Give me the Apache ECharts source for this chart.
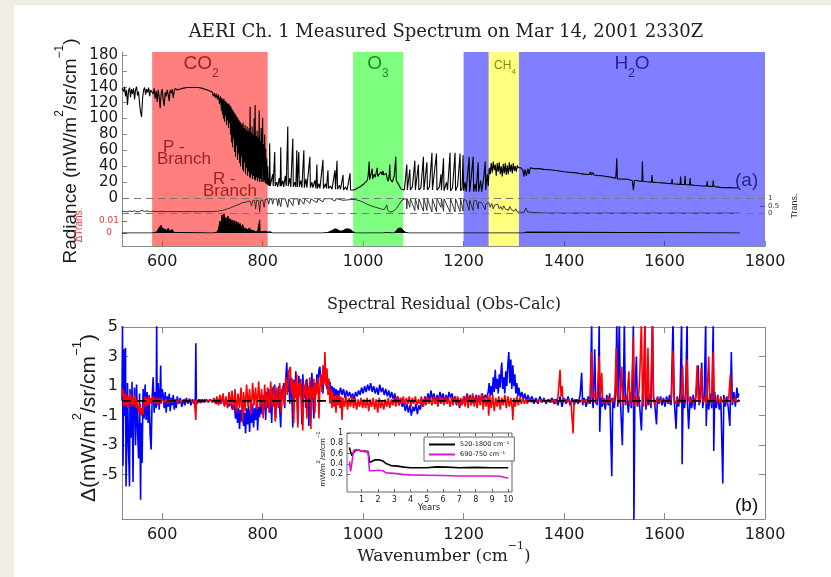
<!DOCTYPE html>
<html><head><meta charset="utf-8">
<script src="https://cdn.jsdelivr.net/npm/echarts@6/dist/echarts.min.js"></script>
<style>
html,body{margin:0;padding:0;background:#efede6;}
#panel{position:absolute;left:14px;top:5px;width:817px;height:572px;background:#fff;}
#main{position:absolute;left:0;top:0;width:831px;height:577px;}
</style></head><body>
<div id="panel"></div><div id="main"></div>
<script>
// ---------- DATA ----------
const xTicks = [600, 800, 1000, 1200, 1400, 1600, 1800];
const transTicks = [0, 0.5, 1];
const dTransTicks = [0, 0.01];
const resTicks = [-5, -3, -1, 1, 3, 5];
const insetXTicks = [1, 2, 3, 4, 5, 6, 7, 8, 9, 10];
const insetYTicks = [0.2, 0.4, 0.6, 0.8, 1];

// absorber bands (wavenumber ranges)
const bandNames = ['CO2', 'O3', 'H2O', 'H2O', 'CH4'];
const bandRanges = [[580, 810], [980, 1080], [1200, 1250], [1310, 1800], [1250, 1310]];

// measured radiance [wavenumber, mW/m2/sr/cm-1]
const radiance = [
[520,138],[523,134],[525,140],[527,128],[529,136],[531,117],[533,135],[535,139],[537,127],[539,137],[541,131],[543,138],[545,124],[547,136],[549,140],[551,129],[553,134],[555,118],[557,108],[559,102],[561,126],[563,136],[565,139],[567,130],[569,137],[571,133],[573,139],[575,128],[577,136],[580,138],
[582,131],[584,138],[586,125],[588,135],[590,121],[592,136],[594,128],[596,113],[598,132],[600,137],[602,124],[604,116],[606,133],[608,128],[610,136],[612,130],[614,122],[616,136],[618,132],[620,137],[622,126],[624,135],[626,138],[630,136],[635,137],[640,138],[650,139],[660,139],[668,139],[670,141],[672,139],[680,138],[690,136],
[700,133],[702,128],[704,132],[706,126],[708,131],[710,124],[712,130],[714,118],[716,128],[718,110],[719,126],[720,105],[721,124],[722,100],[723,125],[724,96],[725,122],[726,104],[727,121],[728,92],[729,120],[730,98],[731,118],[732,88],[733,119],[734,94],[735,116],[736,80],[737,115],[738,70],[739,112],[740,64],[741,110],[742,75],[743,108],[744,58],[745,106],[746,52],[747,104],[748,66],[749,102],[750,48],[751,100],[752,56],[753,98],[754,44],[755,96],[756,40],[757,94],[758,52],[759,92],[760,36],[761,95],[762,33],[763,88],[764,45],[765,92],[766,30],[767,86],[768,38],[769,90],[770,28],[771,84],[772,33],[773,88],[774,26],[775,115],[776,25],[777,82],[778,30],[779,90],[780,24],[781,80],[782,28],[783,100],[784,23],[785,117],[786,22],[787,78],[788,26],[789,85],[790,21],[791,76],[792,25],[793,110],[794,20],[795,72],[796,24],[797,88],[798,20],[799,70],[800,101],[801,20],[802,68],[803,22],[804,80],[805,19],[806,62],[807,18],[808,50],[809,17],[810,40],[811,16],[812,25],[813,15],
[814,69],[815,15],[818,16],[820,30],[821,15],[824,58],[825,15],[828,20],[830,14],[833,25],[835,15],[836,64],[837,15],[840,22],[842,14],[845,28],[847,15],[850,90],[851,15],[854,25],[856,14],[860,75],[861,14],[864,20],[866,14],[868,60],[869,14],[872,58],[873,14],[876,22],[878,13],[882,60],[883,13],[886,24],[888,13],[894,52],[895,13],[898,20],[900,13],[904,22],[906,12],[908,42],[909,12],[912,18],[914,12],[920,48],[921,12],[925,18],[927,12],[930,35],[931,12],[935,15],[938,11],[944,35],[945,11],[948,47],[949,11],[953,16],[955,11],[960,29],[961,10],[965,14],[968,10],[974,31],[975,10],[978,12],[981,10],
[985,11],[990,13],[994,14],[998,16],[1002,18],[1005,20],[1008,22],[1010,28],[1012,46],[1013,23],[1016,25],[1018,37],[1019,24],[1022,30],[1024,26],[1026,32],[1028,38],[1029,27],[1032,30],[1034,28],[1036,33],[1038,29],[1040,34],[1041,29],[1044,27],[1046,31],[1048,24],[1050,21],[1052,30],[1053,42],[1054,24],[1056,26],[1058,20],[1060,22],[1062,28],[1065,52],[1066,22],[1068,20],[1070,18],[1073,14],[1076,11],[1078,10],
[1082,10],[1087,42],[1088,10],[1091,12],[1093,36],[1094,10],[1098,14],[1103,47],[1104,10],[1107,12],[1110,42],[1111,10],[1115,13],[1120,52],[1121,10],[1124,12],[1127,45],[1128,10],[1132,14],[1137,57],[1138,10],[1141,12],[1146,56],[1147,10],[1152,14],[1155,30],[1156,10],[1160,50],[1161,9],[1166,20],[1168,10],[1173,57],[1174,9],[1178,13],[1183,57],[1184,9],[1188,15],[1193,56],[1194,9],[1197,12],
[1199,54],[1200,9],[1203,20],[1205,8],[1208,30],[1211,52],[1212,8],[1215,25],[1219,52],[1220,8],[1223,18],[1225,8],[1229,45],[1230,8],[1234,22],[1236,8],[1240,25],[1243,46],[1244,10],[1247,30],[1249,15],
[1251,38],[1253,30],[1255,44],[1257,32],[1259,46],[1261,35],[1263,42],[1265,28],[1267,44],[1269,33],[1271,45],[1273,30],[1275,40],[1277,27],[1279,43],[1281,31],[1283,44],[1285,29],[1287,41],[1289,30],[1291,45],[1293,33],[1295,42],[1297,31],[1299,44],[1301,34],[1303,40],[1305,33],[1307,41],[1309,38],[1311,40],
[1314,38],[1318,35],[1320,27],[1322,36],[1325,28],[1328,37],[1330,30],[1333,38],[1340,37],[1350,37],[1360,36],[1370,35.5],[1380,35],[1390,34],[1400,33],[1410,32.5],[1420,32],[1430,31],[1440,30],[1450,29.5],[1453,33],[1454,29],[1458,32],[1459,29],[1465,28.5],[1475,28],[1485,27],[1495,26],[1503,25],[1505,50],[1506,24],[1507,22],[1508,25],[1515,24],[1520,23.5],[1525,24],[1530,23],[1536,22],[1538,10],[1540,22],[1545,22],[1550,21],[1555,21],[1556,46],[1557,21],[1565,20.5],[1574,20],[1575,29],[1576,20],[1585,19.5],[1595,19],[1605,18.5],[1614,18],[1615,24],[1616,18],[1625,17.5],[1631,17],[1632,27],[1633,17],[1640,17],[1641,28],[1642,17],[1650,16.5],[1651,25],[1652,16.5],[1660,16],[1670,15.5],[1684,15],[1685,21],[1686,15],[1696,14.5],[1697,22],[1698,14.5],[1705,14],[1715,13],[1717,11],[1719,13],[1730,13],[1740,12.5],[1748,13]
];

// atmospheric transmission [wavenumber, 0..1]
const transmission = [
[520,0.12],[525,0.15],[530,0.1],[535,0.16],[540,0.12],[545,0.18],[550,0.1],[555,0.14],[560,0.2],[565,0.13],[570,0.17],[575,0.11],[580,0.15],[590,0.12],[600,0.14],[610,0.11],[620,0.13],[630,0.12],[640,0.12],[660,0.12],[680,0.12],[700,0.13],[710,0.15],[715,0.18],[720,0.2],[725,0.25],[730,0.3],[735,0.35],[738,0.3],[740,0.42],[745,0.5],[748,0.45],[750,0.55],[755,0.62],[758,0.55],[760,0.7],[765,0.72],[768,0.6],[770,0.78],[775,0.8],[778,0.5],[780,0.82],[784,0.85],[786,0.3],[788,0.85],[792,0.82],[794,0.1],[796,0.85],[800,0.88],[803,0.4],[805,0.9],[810,0.9],[812,0.6],[814,0.92],
[818,0.93],[820,0.6],[822,0.93],[828,0.94],[830,0.5],[832,0.94],[836,0.45],[838,0.94],[845,0.94],[850,0.4],[852,0.94],[860,0.5],[862,0.94],[870,0.95],[872,0.55],[874,0.95],[882,0.6],[884,0.95],[894,0.65],[896,0.95],[908,0.7],[910,0.95],[920,0.75],[922,0.95],[935,0.96],[944,0.8],[946,0.96],[960,0.85],[962,0.96],[975,0.9],[978,0.96],
[985,0.9],[995,0.8],[1005,0.65],[1015,0.5],[1025,0.4],[1035,0.3],[1042,0.25],[1045,0.22],[1047,0.55],[1049,0.2],[1053,0.1],[1058,0.12],[1062,0.2],[1067,0.35],[1072,0.6],[1077,0.85],[1082,0.93],
[1086,0.95],[1087,0.3],[1088,0.95],[1093,0.4],[1094,0.95],[1103,0.2],[1104,0.95],[1110,0.25],[1111,0.95],[1120,0.15],[1121,0.95],[1127,0.2],[1128,0.95],[1137,0.1],[1138,0.95],[1146,0.12],[1147,0.95],[1155,0.4],[1156,0.95],[1160,0.15],[1161,0.95],[1173,0.1],[1174,0.95],[1183,0.1],[1184,0.95],[1193,0.12],[1194,0.93],
[1199,0.15],[1200,0.9],[1205,0.85],[1211,0.2],[1212,0.85],[1219,0.2],[1220,0.8],[1225,0.85],[1229,0.3],[1230,0.75],[1236,0.7],[1243,0.25],[1244,0.6],[1250,0.7],[1253,0.4],[1256,0.65],[1259,0.3],[1262,0.55],[1265,0.45],[1268,0.6],[1271,0.3],[1274,0.45],[1277,0.25],[1280,0.5],[1283,0.3],[1286,0.4],[1289,0.2],[1292,0.45],[1295,0.25],[1298,0.35],[1301,0.15],[1304,0.3],[1307,0.1],[1310,0.12],[1315,0.08],[1320,0.06],[1324,0.35],[1327,0.1],[1330,0.05],[1360,0.03],[1400,0.02],[1500,0.02],[1600,0.02],[1750,0.02]
];

// change of transmission
const dTrans = [
[520,0],[580,0],[585,0.0005],[588,0.002],[590,0.001],[593,0.004],[596,0.0035],[598,0.0065],[600,0.004],[603,0.005],[606,0.003],[610,0.002],[612,0.004],[615,0.0015],[618,0.001],[620,0.003],[623,0.0005],[626,0],[700,0],[708,0.0005],[712,0.003],[715,0.01],[717,0.005],[719,0.015],[721,0.008],[723,0.016],[725,0.009],[727,0.013],[729,0.007],[731,0.014],[733,0.008],[735,0.012],[737,0.007],[739,0.011],[741,0.006],[743,0.0105],[745,0.005],[747,0.01],[749,0.005],[751,0.009],[753,0.005],[755,0.008],[757,0.004],[760,0.007],[763,0.004],[766,0.005],[770,0.003],[774,0.004],[778,0.002],[782,0.002],[786,0.001],[790,0.0015],[793,0.001],[794,0.011],[795,0.001],[800,0.001],[805,0.0015],[810,0.0008],[815,0.001],[820,0],[920,0],[930,0.0005],[935,0.0015],[940,0.0025],[944,0.0035],[948,0.003],[952,0.002],[956,0.0015],[960,0.002],[964,0.003],[968,0.0035],[971,0.004],[975,0.003],[980,0.001],[985,0],[1040,0],[1045,0.0005],[1048,0.001],[1050,0.0003],[1060,0],[1064,0.001],[1067,0.0025],[1070,0.004],[1073,0.005],[1076,0.004],[1080,0.002],[1085,0.0005],[1090,0],[1320,0],[1325,0.0008],[1328,0],[1750,0]
];

// spectral residual, blue series
const residBlue = [
[520,0],[521,5.2],[522,-4.4],[524,3.5],[525,-1],[527,3.6],[528,-5.8],[530,-2],[531,1.2],[533,-3.2],[535,-5.8],[536,0.8],[538,-2.5],[540,1.3],[542,-5.5],[543,-1],[545,0.9],[547,-3],[549,1.1],[551,-2],[553,-3.9],[555,0.5],[557,-6.7],[558,-1.5],[560,-4.2],[562,0.8],[564,-1.2],[566,1.1],[568,-1.3],[570,0.6],[572,-1.5],[574,0.4],[576,-2.3],[578,-3.3],[580,0.2],[582,1.6],[584,-0.8],[586,0.6],[588,-0.5],[589,5.2],[590,-0.3],[592,1.2],[594,-0.6],[596,0.9],[597,2.4],[598,-0.2],[600,0.8],
[602,0.4],[604,-0.5],[606,0.6],[608,-0.8],[610,0.3],[612,-0.4],[614,0.5],[616,-0.7],[618,0.2],[620,-0.3],[622,0.4],[624,-0.6],[626,0.1],[628,-0.5],[630,0.3],[633,-0.2],[636,0.2],[639,-0.4],[642,0.1],[645,-0.3],[648,0.2],[651,-0.2],[654,0.15],[657,-0.3],[660,0.1],[663,-0.2],[666,0.2],[667,3.9],[668,0.1],[670,-0.2],[673,0.1],[676,-0.15],[680,0.1],[684,-0.1],[688,0.1],[692,-0.1],[696,0.1],[700,-0.1],
[704,0.1],[708,-0.2],[712,0.1],[716,-0.2],[720,0.15],[724,-0.3],[728,0],[732,-0.4],[736,-0.1],[740,-0.6],[743,0.1],[746,-1.2],[748,-0.4],[750,-1.5],[752,-0.5],[754,-1.9],[756,-0.6],[758,-1.4],[760,-0.3],[762,-1.7],[764,-0.8],[766,-2.2],[768,-0.5],[770,-1.6],[772,-0.3],[774,-2.1],[776,-0.6],[778,-1.5],[780,-0.2],[782,-1.8],[784,-0.5],[786,-1.3],[788,0.2],[790,-2.0],[792,-0.4],[794,-1.1],[796,0.3],[798,-0.9],[800,0.4],
[802,-0.6],[804,0.5],[806,-1.3],[808,0.6],[810,-0.5],[812,0.8],[814,-0.8],[816,0.5],[818,-1.5],[820,0.9],[822,-0.4],[824,1.1],[826,-1.2],[828,0.7],[830,-0.3],[832,1.0],[834,-0.6],[836,-1.8],[838,0.8],[840,0.2],[842,1.2],[844,-0.5],[846,1.5],[848,2.6],[850,0.6],[852,1.8],[854,-0.2],[856,1.6],[858,0.4],[860,-1.8],[862,1.4],[864,0.3],[866,2.0],[868,0.5],[870,-1.5],[872,1.7],[874,0.6],[876,1.2],[878,-1.6],[880,1.8],[882,0.2],[884,1.0],[886,-0.5],[888,1.5],[890,0.3],[892,-1.7],[894,1.3],[896,0.5],[898,1.9],[900,0.2],[902,-1.2],[904,1.2],[906,0.4],[908,1.8],[910,0.9],[912,2.1],[914,2.3],[916,1.0],[918,1.6],[920,0.5],[922,2.0],[924,1.2],[926,1.8],[928,0.8],[930,1.5],[932,1.0],[934,1.3],[936,0.6],[938,1.0],[940,0.4],[942,0.9],[944,0.3],[946,0.8],[948,0.2],[950,0.7],[952,0.3],[955,0.9],[958,0.4],[961,0.8],[964,0.2],[967,0.7],[970,0.3],[973,0.6],[976,0.2],[979,0.5],[982,0.1],[985,0.6],[988,0.3],[991,0.7],[994,0.4],[997,0.9],[1000,0.5],
[1003,1.0],[1006,0.6],[1009,1.1],[1012,0.7],[1015,1.2],[1018,0.6],[1021,1.0],[1024,0.5],[1027,0.9],[1030,0.4],[1033,1.1],[1036,0.6],[1039,0.9],[1042,0.4],[1045,0.8],[1048,0.3],[1051,0.7],[1054,0.2],[1057,0.6],[1060,0.1],[1063,0.5],[1066,-0.1],[1069,0.3],[1072,-0.3],[1075,0.2],[1078,-0.4],[1081,-0.1],[1084,-0.7],[1087,-0.2],[1090,-0.8],[1093,-0.3],[1096,-1.0],[1099,-0.4],[1102,-0.7],[1105,-0.2],[1108,-0.9],[1111,-0.3],[1114,-0.6],[1117,0.1],[1120,-0.4],[1123,0.3],[1126,-0.2],[1129,0.5],[1132,0],[1135,0.7],[1138,0.1],[1141,0.5],[1144,-0.2],[1147,0.4],[1150,0],[1153,0.6],[1156,0.1],[1159,0.5],[1162,-0.1],[1165,0.4],[1168,0],[1171,0.6],[1174,0.2],[1177,0.5],[1180,-0.1],[1183,0.3],[1186,-0.3],[1189,0.2],[1192,-0.5],[1195,0.1],[1198,-0.2],[1201,0.3],[1204,-0.1],[1207,0.5],[1210,0],[1213,0.4],[1216,-0.2],[1219,0.3],[1222,0],[1225,0.4],[1228,-0.1],[1231,0.3],[1234,0],[1237,0.5],[1240,0.1],[1243,0.4],[1246,0.2],
[1249,0.6],[1251,1.2],[1253,0.3],[1255,1.0],[1257,0.4],[1259,1.6],[1261,0.6],[1263,2.1],[1265,0.8],[1267,1.5],[1269,0.5],[1271,1.8],[1273,0.9],[1275,2.2],[1276,2.6],[1278,0.8],[1280,1.6],[1282,0.5],[1284,2.0],[1286,1.0],[1288,2.4],[1290,3.3],[1292,1.2],[1294,2.8],[1296,0.8],[1298,2.4],[1300,1.0],[1302,1.8],[1304,0.5],[1306,1.2],[1308,0.3],[1310,0.9],[1313,0.2],[1316,0.6],[1319,0.1],[1322,0.5],[1325,-0.1],[1328,0.4],
[1332,0],[1336,0.3],[1340,-0.2],[1344,0.2],[1348,-0.2],[1352,0.3],[1356,-0.1],[1360,0.2],[1364,-0.2],[1368,0.1],[1372,-0.1],[1376,0.2],[1380,-0.2],[1384,0.1],[1388,-0.3],[1392,0.3],[1396,-0.4],[1400,0.2],[1404,-0.2],[1408,0.3],[1412,-0.3],[1416,0.2],[1420,-0.3],[1424,0.1],[1428,-0.2],[1432,0.4],[1435,1.9],[1437,-0.3],[1440,0.2],[1444,-0.4],[1448,0.3],[1452,-0.2],[1455,5.5],[1456,0.1],[1458,-0.5],[1461,3.5],[1463,0.2],[1466,-0.3],[1468,0.6],[1470,5.5],[1471,-2.1],[1473,0.3],[1476,-0.4],[1479,0.2],[1482,-0.6],[1485,0.4],[1488,-0.3],[1491,0.5],[1495,-5.1],[1497,0.2],[1500,-0.5],[1503,0.6],[1505,5.5],[1507,-0.4],[1510,5.5],[1512,0.2],[1516,-3.0],[1518,0.3],[1520,5.5],[1522,-0.3],[1525,0.4],[1528,-0.8],[1531,0.6],[1534,-0.5],[1536,0.8],[1538,5.5],[1539,-8.5],[1541,0.5],[1544,3.0],[1546,-0.4],[1549,0.3],[1551,-0.6],[1554,-2.0],[1556,0.4],[1558,-0.3],[1561,5.5],[1563,-0.6],[1565,0.4],[1568,-0.3],[1570,0.5],[1573,-0.5],[1576,5.5],[1578,0.3],[1581,-0.4],[1584,-1.6],[1586,0.3],[1589,-0.2],[1592,0.3],[1595,-0.3],[1598,0.2],[1601,-0.4],[1604,0.3],[1607,-0.2],[1610,0.4],[1613,-0.3],[1617,5.5],[1619,0.2],[1623,-1.9],[1625,0.3],[1628,-0.4],[1631,0.5],[1634,5.5],[1635,-4.3],[1637,0.4],[1640,-0.5],[1642,0.6],[1645,5.5],[1646,-0.3],[1648,-1.9],[1651,0.3],[1654,-0.5],[1657,0.4],[1660,-0.6],[1663,0.5],[1667,2.4],[1669,-0.3],[1671,0.4],[1674,2.6],[1676,-0.5],[1679,0.3],[1682,5.5],[1683,-1.7],[1685,0.4],[1688,-0.6],[1691,0.5],[1694,-0.5],[1697,5.5],[1698,-3.4],[1700,0.6],[1703,-0.5],[1706,0.4],[1709,-0.6],[1712,0.3],[1716,-5.6],[1718,0.4],[1721,-0.4],[1724,0.3],[1727,-0.5],[1730,-1.7],[1733,3.3],[1735,-0.3],[1738,0.6],[1741,-0.4],[1744,0.9],[1746,0.2],[1748,0.5]
];

// spectral residual, red series
const residRed = [
[520,0.3],[522,0.8],[524,-0.4],[526,0.5],[528,-0.3],[530,0.4],[532,-0.5],[534,0.3],[536,-0.2],[538,0.5],[540,-0.4],[542,0.2],[544,-0.3],[546,0.4],[548,-0.5],[550,0.1],[552,-0.4],[554,-0.8],[556,-0.2],[558,-1.0],[560,-0.5],[562,-0.9],[564,-0.2],[566,0.3],[568,-0.4],[570,0.2],[572,-0.3],[574,0.3],[576,-0.2],[578,0.2],[580,-0.1],[583,0.3],[586,-0.2],[589,0.2],[592,-0.3],[595,0.2],[598,-0.1],[600,0.1],
[604,-0.1],[608,0.1],[612,-0.15],[616,0.1],[620,-0.1],[625,0.1],[630,-0.1],[635,0.05],[640,-0.1],[645,0.1],[650,-0.05],[655,0.1],[660,-0.1],[664,0.05],[667,-1.3],[668,0.1],[672,-0.1],[676,0.1],[680,-0.1],[685,0.1],[690,-0.05],[695,0.1],[700,-0.1],
[703,0.2],[706,-0.2],[709,0.3],[712,-0.3],[715,0.4],[718,-0.2],[721,0.5],[724,-0.4],[727,0.3],[730,-0.5],[733,0.6],[736,-0.3],[739,0.7],[742,-0.6],[745,0.8],[748,-0.8],[751,0.5],[754,-0.5],[757,0.9],[760,-1.5],[762,0.6],[765,-0.7],[768,1.1],[771,-0.4],[774,0.8],[777,-0.9],[780,1.2],[783,-0.3],[786,0.9],[789,-0.6],[792,1.3],[795,-0.4],[798,0.8],[801,-1.2],[804,1.1],[807,-0.5],[810,0.9],[813,-0.8],[816,1.3],[819,-0.4],[822,1.0],[825,-1.4],[828,0.9],[831,-0.5],[834,1.2],[837,-0.8],[840,1.0],[843,-0.3],[846,1.6],[849,0.4],[852,2.0],[855,2.3],[857,0.5],[860,1.5],
[862,-1.5],[864,1.3],[866,0.2],[868,1.8],[870,-1.8],[872,1.2],[874,0.3],[876,1.5],[878,-0.6],[880,-2.0],[882,1.1],[884,0.4],[886,1.4],[888,-1.2],[890,1.0],[892,0.2],[894,1.6],[896,-1.9],[898,0.9],[900,0.2],[902,1.5],[904,-0.8],[906,1.2],[908,0.5],[910,1.6],[912,-1.2],[914,1.0],[916,1.8],[918,0.6],[920,2.4],[922,1.2],[924,3.3],[926,1.0],[928,2.2],[930,0.4],[932,1.5],[934,-0.2],[936,0.8],[938,-0.5],[940,0.6],[942,-0.4],[944,0.3],[946,-0.8],[948,0.4],[950,-0.3],[952,0.5],[954,-0.5],[956,0.3],[958,-1.3],[960,0.2],[963,-0.4],[966,0.3],[969,-0.6],[972,0.2],[975,-0.4],[978,0.3],[981,-0.5],[984,0.2],[987,-0.6],[990,0.1],[993,-0.4],[996,0.2],[999,-0.5],
[1002,0.1],[1005,-0.5],[1008,0.2],[1011,-0.7],[1014,0.1],[1017,-0.4],[1020,0.2],[1023,-0.6],[1026,0.1],[1029,-0.8],[1032,0.2],[1035,-0.5],[1038,0],[1041,-0.6],[1044,0.1],[1047,-0.4],[1050,0.2],[1053,-0.5],[1056,0.1],[1059,-0.3],[1062,0.2],[1065,-0.4],[1068,0.3],[1071,-0.3],[1074,0.2],[1077,-0.2],[1080,0.3],[1083,-0.3],[1086,0.2],[1089,-0.2],[1092,0.3],[1095,-0.4],[1098,0.2],[1101,-0.2],[1104,0.3],[1107,-0.3],[1110,0.1],[1113,-0.2],[1116,0.3],[1119,-0.4],[1122,0.2],[1125,-0.3],[1128,0.3],[1131,-0.2],[1134,0.2],[1137,-0.3],[1140,0.3],[1143,-0.2],[1146,0.2],[1149,-0.4],[1152,0.3],[1155,-0.2],[1158,0.2],[1161,-0.3],[1164,0.3],[1167,-0.2],[1170,0.2],[1173,-0.4],[1176,0.2],[1179,-0.3],[1182,0.3],[1185,-0.2],[1188,0.3],[1191,-0.4],[1194,0.2],[1197,-0.3],[1200,0.3],[1203,-0.4],[1206,0.4],[1209,-0.5],[1212,0.3],[1215,-0.3],[1218,0.5],[1221,-0.4],[1224,0.3],[1227,-0.5],[1230,0.4],[1233,-0.3],[1236,0.5],[1239,-0.6],[1242,0.3],[1245,-0.4],[1248,0.4],[1250,-1.0],[1252,0.3],[1255,-0.5],[1258,0.4],[1261,-0.7],[1264,0.2],[1267,-0.4],[1270,0.3],[1273,-0.6],[1276,0.2],[1279,-0.3],[1282,0.4],[1285,-0.5],[1288,0.3],[1291,-0.4],[1294,0.2],[1297,-0.6],[1298,-1.3],[1300,0.2],[1303,-0.4],[1306,0.3],[1309,-0.3],[1312,0.2],[1315,-0.2],[1318,0.2],[1321,-0.2],[1324,0.1],[1327,-0.2],[1330,0.1],
[1335,-0.1],[1340,0.1],[1345,-0.1],[1350,0.1],[1355,-0.1],[1360,0.1],[1365,-0.1],[1370,0.1],[1375,-0.1],[1380,0.1],[1384,-0.2],[1388,0.3],[1390,1.2],[1392,2.1],[1394,0.3],[1396,1.0],[1398,-0.1],[1402,0.1],[1406,-0.1],[1410,0.1],[1414,-0.2],[1418,-2.2],[1420,0.1],[1424,-0.1],[1428,0.1],[1432,-0.1],[1436,0.1],[1440,-0.1],[1444,0.1],[1448,-0.2],[1452,0.3],[1455,3.3],[1457,0.2],[1461,0.5],[1463,-0.2],[1466,0.3],[1468,1.5],[1470,3.0],[1472,0.2],[1475,1.9],[1477,-0.2],[1480,0.1],[1484,-0.2],[1488,0.3],[1492,-0.2],[1495,0.2],[1498,-0.1],[1501,0.4],[1504,3.6],[1506,0.3],[1509,-0.2],[1512,0.4],[1515,2.3],[1517,-0.3],[1520,0.3],[1523,-0.2],[1526,0.5],[1529,2.0],[1531,-0.3],[1534,0.2],[1538,4.3],[1540,-0.4],[1543,0.3],[1546,-0.3],[1549,0.6],[1551,2.0],[1554,5.5],[1556,0.3],[1558,-0.4],[1561,5.5],[1563,0.4],[1565,-0.3],[1567,3.6],[1569,0.2],[1572,-0.3],[1576,5.5],[1578,0.2],[1581,-0.3],[1585,0.2],[1590,-0.1],[1595,0.1],[1600,-0.1],[1605,0.1],[1610,-0.2],[1614,0.3],[1617,3.4],[1619,0.1],[1622,-0.2],[1626,0.2],[1630,-0.2],[1633,0.3],[1636,2.4],[1638,0.1],[1642,-0.2],[1645,2.8],[1647,0.2],[1650,-0.1],[1654,0.2],[1658,-0.2],[1662,0.3],[1665,2.4],[1667,0.1],[1670,-0.2],[1673,2.2],[1675,0.2],[1678,-0.1],[1681,0.3],[1684,-0.2],[1688,3.0],[1690,0.1],[1694,-0.2],[1697,3.3],[1699,0.2],[1702,-0.1],[1706,0.3],[1709,-0.2],[1712,0.2],[1716,-0.1],[1720,0.2],[1724,-0.2],[1728,0.3],[1731,1.8],[1733,0.2],[1736,-0.1],[1740,0.2],[1744,-0.1],[1748,0.1]
];

const zeroLine = [[520, 0], [1750, 0]];

// inset: residual RMS vs. years
const insetBroadName = '520-1800 cm\u207B\u00B9';
const insetNarrowName = '690-750 cm\u207B\u00B9';
const insetBroad = [[0.25,0.72],[0.32,0.64],[0.4,0.56],[0.5,0.62],[0.6,0.66],[0.8,0.67],[1.0,0.65],[1.2,0.65],[1.4,0.64],[1.48,0.43],[1.6,0.46],[1.8,0.48],[2.1,0.48],[2.3,0.46],[2.5,0.41],[2.8,0.37],[3.2,0.36],[3.6,0.34],[4,0.33],[5,0.33],[5.6,0.345],[6.2,0.34],[7,0.33],[8,0.335],[9,0.33],[10,0.33]];
const insetNarrow = [[0.25,0.45],[0.32,0.26],[0.4,0.42],[0.5,0.66],[0.7,0.68],[0.9,0.66],[1.2,0.64],[1.4,0.63],[1.48,0.27],[1.6,0.24],[1.7,0.27],[2.0,0.28],[2.3,0.27],[2.5,0.23],[3,0.22],[3.5,0.2],[4,0.19],[5,0.185],[6,0.18],[7,0.17],[8,0.17],[9,0.17],[9.5,0.165],[9.8,0.14],[10,0.13]];

// ---------- STYLE ----------
const SANS = '"Liberation Sans", Arial, sans-serif';
const DJ = '"DejaVu Sans", sans-serif';
const SERIF = '"DejaVu Serif", serif';
const AX = '#8a8a8a';
const bandColors = ['rgba(255,0,0,0.5)', 'rgba(0,255,0,0.5)', 'rgba(0,0,255,0.5)', 'rgba(0,0,255,0.5)', 'rgba(255,255,0,0.5)'];
const plain = v => String(v);

const chart = echarts.init(document.getElementById('main'));

function hx(g) { return {gridIndex: g, type: 'value', min: 520, max: 1800, show: false}; }
function txt(x, y, text, st, extra) {
  return Object.assign({type: 'text', x: x, y: y, z: 100, silent: true,
    style: Object.assign({text: text, fill: '#1a1a1a', align: 'center', verticalAlign: 'middle'}, st)}, extra || {});
}
function supRich(n, s, fam, color) {
  return {
    n: {fontSize: n, fontFamily: fam, lineHeight: Math.round(n * 1.4), verticalAlign: 'bottom', fill: color},
    s: {fontSize: s, fontFamily: fam, lineHeight: s + 1, verticalAlign: 'top', fill: color}
  };
}
function subRich(n, s, fam, color) {
  return {
    n: {fontSize: n, fontFamily: fam, lineHeight: Math.round(n * 1.35), verticalAlign: 'top', fill: color},
    b: {fontSize: s, fontFamily: fam, lineHeight: s + 1, verticalAlign: 'bottom', fill: color}
  };
}
const ROT = Math.PI / 2;
const CO2C = '#a51f1f', O3C = '#1f8a1f', CH4C = '#8a8a10', H2OC = '#26268f';

const option = {
  animation: false,
  grid: [
    {left: 122, top: 52, width: 643, height: 194},
    {left: 122, top: 55, width: 643, height: 143},
    {left: 122, top: 198, width: 643, height: 15.5},
    {left: 122, top: 209, width: 643, height: 24},
    {left: 122, top: 327, width: 643, height: 192},
    {left: 347, top: 433, width: 165, height: 59, show: true, backgroundColor: '#fff', borderColor: '#666', borderWidth: 1, z: 3}
  ],
  xAxis: [
    {gridIndex: 0, type: 'value', min: 520, max: 1800, position: 'bottom',
     axisLine: {show: true, onZero: false, lineStyle: {color: AX}},
     axisTick: {show: true, inside: true, length: 5, customValues: xTicks, lineStyle: {color: AX}},
     axisLabel: {customValues: xTicks, formatter: plain, fontSize: 16, fontFamily: DJ, color: '#1a1a1a', margin: 8},
     splitLine: {show: false}},
    hx(1), hx(2), hx(3),
    {gridIndex: 4, type: 'value', min: 520, max: 1800, position: 'bottom',
     axisLine: {show: true, onZero: false, lineStyle: {color: AX}},
     axisTick: {show: true, inside: true, length: 6, customValues: xTicks, lineStyle: {color: AX}},
     axisLabel: {customValues: xTicks, formatter: plain, fontSize: 16, fontFamily: DJ, color: '#1a1a1a', margin: 8},
     splitLine: {show: false}},
    {gridIndex: 4, type: 'value', min: 520, max: 1800, position: 'top',
     axisLine: {show: true, onZero: false, lineStyle: {color: AX}},
     axisTick: {show: true, inside: true, length: 6, customValues: xTicks, lineStyle: {color: AX}},
     axisLabel: {show: false}, splitLine: {show: false}},
    {gridIndex: 5, type: 'value', min: 0.1, max: 10.23, position: 'bottom', z: 5,
     axisLine: {show: false, onZero: false},
     axisTick: {show: true, inside: true, length: 3, customValues: insetXTicks, lineStyle: {color: '#666'}},
     axisLabel: {customValues: insetXTicks, formatter: plain, fontSize: 8, fontFamily: DJ, color: '#222', margin: 4},
     splitLine: {show: false}},
    {gridIndex: 5, type: 'value', min: 0.1, max: 10.23, position: 'top', z: 5,
     axisLine: {show: false, onZero: false},
     axisTick: {show: true, inside: true, length: 3, customValues: insetXTicks, lineStyle: {color: '#666'}},
     axisLabel: {show: false}, splitLine: {show: false}}
  ],
  yAxis: [
    {gridIndex: 0, type: 'value', min: 0, max: 1,
     axisLine: {show: true, onZero: false, lineStyle: {color: AX}},
     axisTick: {show: false}, axisLabel: {show: false}, splitLine: {show: false}},
    {gridIndex: 1, type: 'value', min: 0, max: 180, interval: 20,
     axisLine: {show: false, onZero: false},
     axisTick: {show: true, inside: true, length: 5, lineStyle: {color: AX}},
     axisLabel: {fontSize: 15, fontFamily: DJ, color: '#1a1a1a', margin: 4, showMinLabel: true, showMaxLabel: true},
     splitLine: {show: false}},
    {gridIndex: 2, type: 'value', min: 0, max: 1, position: 'right',
     axisLine: {show: false, onZero: false},
     axisTick: {show: true, inside: true, length: 5, customValues: transTicks, lineStyle: {color: AX}},
     axisLabel: {customValues: transTicks, formatter: plain, fontSize: 7, fontFamily: DJ, color: '#333', margin: 3,
       showMinLabel: true, showMaxLabel: true, hideOverlap: false},
     splitLine: {show: false}},
    {gridIndex: 3, type: 'value', min: 0, max: 0.02,
     axisLine: {show: false, onZero: false},
     axisTick: {show: true, inside: true, length: 5, customValues: dTransTicks, lineStyle: {color: '#e04040'}},
     axisLabel: {customValues: dTransTicks, formatter: plain, fontSize: 9, fontFamily: DJ, color: '#e03a3a', margin: 13, align: 'center',
       showMinLabel: true, showMaxLabel: true, hideOverlap: false},
     splitLine: {show: false}},
    {gridIndex: 4, type: 'value', min: -8, max: 5, position: 'left',
     axisLine: {show: true, onZero: false, lineStyle: {color: AX}},
     axisTick: {show: true, inside: true, length: 6, customValues: resTicks, lineStyle: {color: AX}},
     axisLabel: {customValues: resTicks, formatter: plain, fontSize: 16, fontFamily: DJ, color: '#1a1a1a', margin: 4},
     splitLine: {show: false}},
    {gridIndex: 4, type: 'value', min: -8, max: 5, position: 'right',
     axisLine: {show: true, onZero: false, lineStyle: {color: AX}},
     axisTick: {show: true, inside: true, length: 6, customValues: resTicks, lineStyle: {color: AX}},
     axisLabel: {show: false}, splitLine: {show: false}},
    {gridIndex: 5, type: 'value', min: -0.14, max: 1, z: 5,
     axisLine: {show: false, onZero: false},
     axisTick: {show: true, inside: true, length: 3, customValues: insetYTicks, lineStyle: {color: '#666'}},
     axisLabel: {customValues: insetYTicks, formatter: plain, fontSize: 8, fontFamily: DJ, color: '#222', margin: 4},
     splitLine: {show: false}}
  ],
  legend: {
    data: [insetBroadName, insetNarrowName], left: 424, top: 437, orient: 'vertical',
    icon: 'rect', itemWidth: 26, itemHeight: 2, itemGap: 3, padding: [4, 5, 3, 5],
    borderColor: '#444', borderWidth: 0.8, backgroundColor: '#fff', selectedMode: false, z: 20,
    textStyle: {fontSize: 6.5, fontFamily: DJ, color: '#222'}
  },
  series: [
    {type: 'line', xAxisIndex: 1, yAxisIndex: 1, data: radiance, symbol: 'none', silent: true, z: 2,
     lineStyle: {color: '#000', width: 1.1}},
    {type: 'line', xAxisIndex: 2, yAxisIndex: 2, data: transmission, symbol: 'none', silent: true, z: 2,
     lineStyle: {color: '#222', width: 0.9},
     markLine: {silent: true, symbol: 'none', label: {show: false},
       lineStyle: {type: [7, 5], color: '#777', width: 1}, data: [{yAxis: 1}, {yAxis: 0}]}},
    {type: 'line', xAxisIndex: 3, yAxisIndex: 3, data: dTrans, symbol: 'none', silent: true, z: 2,
     lineStyle: {color: '#000', width: 1}, areaStyle: {color: '#000', opacity: 1}},
    {type: 'line', xAxisIndex: 0, yAxisIndex: 0, data: [], symbol: 'none', silent: true, z: 10,
     markArea: {silent: true, data: bandRanges.map((r, i) => [
       {name: bandNames[i], xAxis: r[0], itemStyle: {color: bandColors[i]}, label: {show: false}},
       {xAxis: r[1]}])}},
    {type: 'line', xAxisIndex: 4, yAxisIndex: 4, data: residBlue, symbol: 'none', silent: true, z: 2,
     lineStyle: {color: '#0000ff', width: 1.6}},
    {type: 'line', xAxisIndex: 4, yAxisIndex: 4, data: residRed, symbol: 'none', silent: true, z: 2,
     lineStyle: {color: '#ff0000', width: 1.6}},
    {type: 'line', xAxisIndex: 4, yAxisIndex: 4, data: zeroLine, symbol: 'none', silent: true, z: 2,
     lineStyle: {color: '#000', width: 1.6, type: [9, 6]}},
    {type: 'line', name: insetBroadName, xAxisIndex: 6, yAxisIndex: 6, data: insetBroad, symbol: 'none', silent: true, z: 6,
     itemStyle: {color: '#000'}, lineStyle: {color: '#000', width: 1.6}},
    {type: 'line', name: insetNarrowName, xAxisIndex: 6, yAxisIndex: 6, data: insetNarrow, symbol: 'none', silent: true, z: 6,
     itemStyle: {color: '#e010e0'}, lineStyle: {color: '#e010e0', width: 1.6}}
  ],
  graphic: [
    txt(446, 32, 'AERI Ch. 1 Measured Spectrum on Mar 14, 2001 2330Z', {fontSize: 18, fontFamily: SERIF, fill: '#222'}),
    txt(444, 305, 'Spectral Residual (Obs-Calc)', {fontSize: 16, fontFamily: SERIF, fill: '#222'}),
    txt(444, 553, '{n|Wavenumber (cm}{s|\u22121}{n|)}', {rich: supRich(17, 11, SERIF, '#222')}),
    txt(67, 151, '{n|Radiance (mW/m}{s|2}{n|/sr/cm}{s|\u22121}{n|)}', {rich: supRich(19, 12, SANS, '#1a1a1a')}, {rotation: ROT}),
    txt(85, 418, '{n|\u0394(mW/m}{s|2}{n|/sr/cm}{s|\u22121}{n|)}', {rich: supRich(21, 13, SANS, '#1a1a1a')}, {rotation: ROT}),
    txt(79, 225, '\u0394Trans.', {fontSize: 10, fontFamily: SANS, fill: '#e03a3a'}, {rotation: ROT}),
    txt(795, 206, 'Trans.', {fontSize: 9, fontFamily: SANS, fill: '#333'}, {rotation: ROT}),
    txt(321, 459, '{n|mW/m}{s|2}{n|/sr/cm}{s|\u22121}', {rich: supRich(8, 6, SANS, '#222')}, {rotation: ROT}),
    txt(429, 508, 'Years', {fontSize: 8.5, fontFamily: DJ, fill: '#222'}),
    txt(201, 67, '{n|CO}{b|2}', {rich: subRich(19, 12, SANS, CO2C)}),
    txt(378, 67, '{n|O}{b|3}', {rich: subRich(19, 12, SANS, O3C)}),
    txt(505, 68, '{n|CH}{b|4}', {rich: subRich(12, 8, SANS, CH4C)}),
    txt(632, 67, '{n|H}{b|2}{n|O}', {rich: subRich(19, 12, SANS, H2OC)}),
    txt(163, 147, 'P -', {fontSize: 17, fontFamily: SANS, fill: CO2C, align: 'left'}),
    txt(157, 159, 'Branch', {fontSize: 17, fontFamily: SANS, fill: CO2C, align: 'left'}),
    txt(213, 179, 'R -', {fontSize: 17, fontFamily: SANS, fill: CO2C, align: 'left'}),
    txt(203, 191, 'Branch', {fontSize: 17, fontFamily: SANS, fill: CO2C, align: 'left'}),
    txt(735, 181, '(a)', {fontSize: 19, fontFamily: SANS, fill: H2OC, align: 'left'}),
    txt(735, 506, '(b)', {fontSize: 19, fontFamily: SANS, fill: '#111', align: 'left'})
  ]
};
chart.setOption(option);
</script></body></html>
